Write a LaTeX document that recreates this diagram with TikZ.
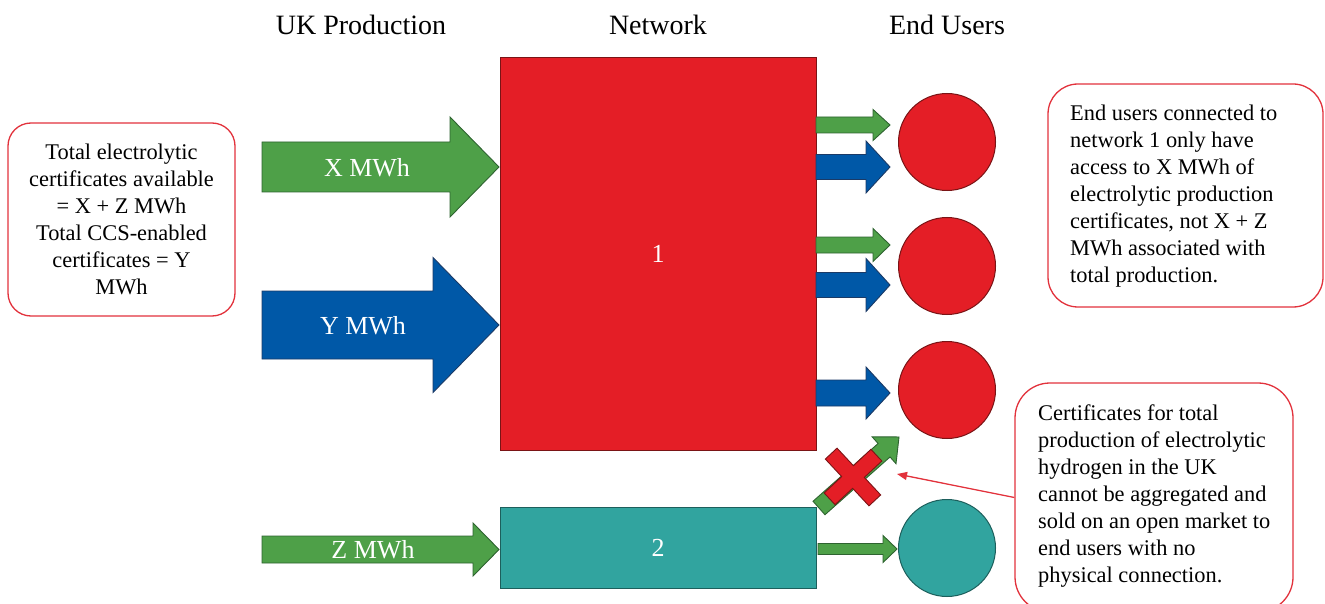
\documentclass[tikz,border=0pt]{standalone}
\usepackage{fontspec}
\setmainfont{Liberation Serif}
\usetikzlibrary{arrows.meta}

\definecolor{netred}{HTML}{E41E26}
\definecolor{netredline}{HTML}{7A1416}
\definecolor{prodgreen}{HTML}{4EA048}
\definecolor{greenline}{HTML}{2E6330}
\definecolor{prodblue}{HTML}{0058A7}
\definecolor{blueline}{HTML}{1B3A66}
\definecolor{netteal}{HTML}{31A49F}
\definecolor{tealline}{HTML}{1D5F5C}
\definecolor{calloutred}{HTML}{E2323C}

% block arrow: [style] tail x, head-base x, tip x, centre y, shaft half-width, head half-width
\newcommand\blockarrow[7][]{%
  \path[#1] (#2,#5-#6) -- (#3,#5-#6) -- (#3,#5-#7) -- (#4,#5)
    -- (#3,#5+#7) -- (#3,#5+#6) -- (#2,#5+#6) -- cycle;}

\tikzset{
  greenarr/.style={fill=prodgreen, draw=greenline, line width=0.9pt},
  bluearr/.style={fill=prodblue, draw=blueline, line width=0.9pt},
  heading/.style={font=\fontsize{28}{32}\selectfont},
  arrlabel/.style={text=white, font=\fontsize{26}{30}\selectfont, inner sep=0pt},
  netbox/.style={rectangle, line width=1pt, text=white, font=\fontsize{26}{30}\selectfont},
  enduser/.style={circle, minimum size=97pt, inner sep=0pt, line width=1pt},
  callout/.style={rectangle, rounded corners=#1, draw=calloutred, line width=1.3pt,
    fill=white, font=\fontsize{22.4}{27}\selectfont, inner sep=0pt},
  callout/.default=25pt,
  callouttext/.style={font=\fontsize{22.4}{27}\selectfont, inner sep=0pt, align=left}
}

\begin{document}
\begin{tikzpicture}[x={(1pt,0pt)}, y={(0pt,-1pt)}]
\useasboundingbox (0,0) rectangle (1325,604);
\clip (0,0) rectangle (1325,604);

% column headings
\node[heading] (hprod) at (361,25) {UK Production};
\node[heading] (hnet)  at (658,25) {Network};
\node[heading] (husers) at (947,25) {End Users};

% networks
\node[netbox, fill=netred, draw=netredline, minimum width=316pt, minimum height=392pt]
  (net1) at (658,254) {1};
\node[netbox, fill=netteal, draw=tealline, minimum width=316pt, minimum height=81pt]
  (net2) at (658,548) {2};

% production inputs
\blockarrow[greenarr]{262}{450}{499}{167}{25}{50}
\blockarrow[bluearr]{262}{433}{499}{325}{34}{67.5}
\blockarrow[greenarr]{262}{473}{499}{549.5}{13.5}{26.5}
\node[arrlabel] (lx) at (367,168) {X MWh};
\node[arrlabel] (ly) at (363,326) {Y MWh};
\node[arrlabel] (lz) at (373,550) {Z MWh};

% deliveries to end users
\blockarrow[greenarr]{816}{873}{890}{125}{8}{15.5}
\blockarrow[bluearr]{816}{866}{890}{167}{12.5}{26}
\blockarrow[greenarr]{816}{873}{890}{245}{8}{16.5}
\blockarrow[bluearr]{816}{866}{890}{285}{12.5}{26.5}
\blockarrow[bluearr]{816}{866}{890}{393}{13}{26}
\blockarrow[greenarr]{818}{883}{897}{549}{5.5}{13.5}

% end users
\node[enduser, fill=netred, draw=netredline] (u1) at (947,142) {};
\node[enduser, fill=netred, draw=netredline] (u2) at (947,266) {};
\node[enduser, fill=netred, draw=netredline] (u3) at (947,390) {};
\node[enduser, fill=netteal, draw=tealline] (u4) at (947,548) {};

% blocked transfer from network 2 to network 1 users
\begin{scope}[shift={(819,508)}, rotate=41.6]
  \blockarrow[greenarr]{0}{87}{107}{0}{9}{18}
\end{scope}
\begin{scope}[shift={(853,477)}, rotate=43]
  \path[fill=netred, draw=netredline, line width=0.9pt]
    (8,32) -- (8,8) -- (32,8) -- (32,-8) -- (8,-8) -- (8,-32)
    -- (-8,-32) -- (-8,-8) -- (-32,-8) -- (-32,8) -- (-8,8) -- (-8,32) -- cycle;
\end{scope}
\coordinate (blocked) at (897,474);

% callouts
\node[callout=23pt, minimum width=227pt, minimum height=193pt, align=center]
  (ctotal) at (121.5,219.5)
  {Total electrolytic\\certificates available\\= X + Z MWh\\Total CCS-enabled\\certificates = Y\\MWh};
\node[callout=30pt, minimum width=275pt, minimum height=223pt] (cnet) at (1185.5,195.5) {};
\node[callouttext, anchor=west] (tnet) at (1070,196)
  {End users connected to\\network 1 only have\\access to X MWh of\\electrolytic production\\certificates, not X + Z\\MWh associated with\\total production.};
\node[callout=35pt, minimum width=278pt, minimum height=229pt] (cmarket) at (1154,497.5) {};
\node[callouttext, anchor=west] (tmarket) at (1038,496)
  {Certificates for total\\production of electrolytic\\hydrogen in the UK\\cannot be aggregated and\\sold on an open market to\\end users with no\\physical connection.};

\draw[calloutred, line width=1.3pt, -{Triangle[length=10pt, width=8pt]}]
  (cmarket.west) -- (blocked);
\end{tikzpicture}
\end{document}
